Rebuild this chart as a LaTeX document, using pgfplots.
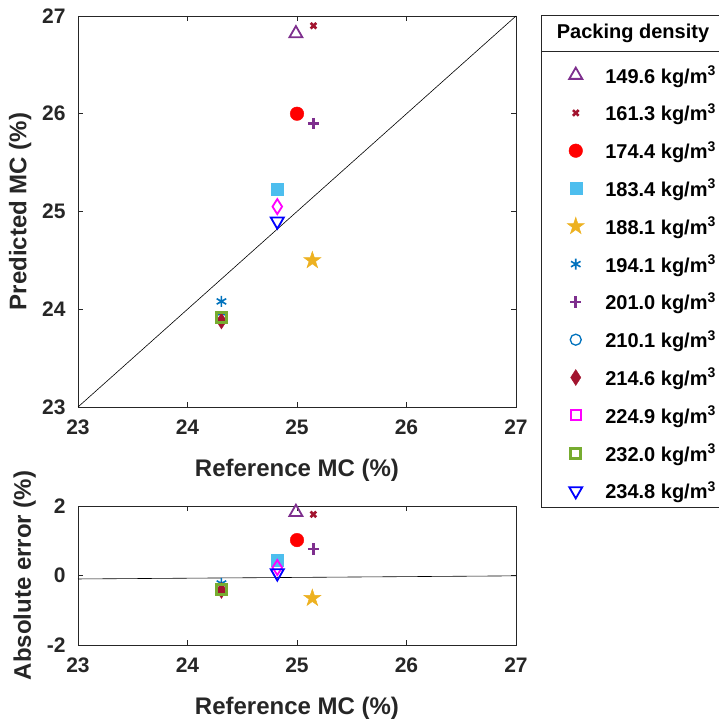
\documentclass[border=0pt]{standalone}
\usepackage{pgfplots}
\pgfplotsset{compat=1.18}
\usepackage{fontspec}
\setmainfont{Liberation Sans}
\definecolor{axc}{RGB}{38,38,38}
\definecolor{cpur}{RGB}{126,47,142}
\definecolor{cdred}{RGB}{162,20,47}
\definecolor{cred}{RGB}{255,0,0}
\definecolor{clblue}{RGB}{77,190,238}
\definecolor{corange}{RGB}{237,177,32}
\definecolor{cmblue}{RGB}{0,114,189}
\definecolor{cmag}{RGB}{255,0,255}
\definecolor{cgreen}{RGB}{119,172,48}
\definecolor{cblue}{RGB}{0,0,255}
\pgfdeclareplotmark{fstar}{%
  \pgfpathmoveto{\pgfpointpolar{90}{\pgfplotmarksize}}%
  \pgfpathlineto{\pgfpointpolar{126}{0.382\pgfplotmarksize}}%
  \pgfpathlineto{\pgfpointpolar{162}{\pgfplotmarksize}}%
  \pgfpathlineto{\pgfpointpolar{198}{0.382\pgfplotmarksize}}%
  \pgfpathlineto{\pgfpointpolar{234}{\pgfplotmarksize}}%
  \pgfpathlineto{\pgfpointpolar{270}{0.382\pgfplotmarksize}}%
  \pgfpathlineto{\pgfpointpolar{306}{\pgfplotmarksize}}%
  \pgfpathlineto{\pgfpointpolar{342}{0.382\pgfplotmarksize}}%
  \pgfpathlineto{\pgfpointpolar{18}{\pgfplotmarksize}}%
  \pgfpathlineto{\pgfpointpolar{54}{0.382\pgfplotmarksize}}%
  \pgfpathclose
  \pgfusepathqfillstroke
}
\pgfplotsset{
  myax/.style={
    scale only axis, width=438pt,
    xmin=23, xmax=27, xtick={23,24,25,26,27},
    axis line style={axc, line width=0.8pt},
    tick style={axc, line width=0.8pt},
    major tick length=5pt,
    tick align=inside, tick pos=both,
    /pgf/number format/assume math mode=true,
    ticklabel style={font=\fontsize{21}{21}\selectfont\bfseries, text=axc},
    xticklabel style={yshift=-9pt},
    yticklabel style={xshift=-9pt},
    label style={font=\fontsize{24}{24}\selectfont\bfseries, text=axc},
    xlabel style={yshift=-18pt},
    ylabel style={yshift=4pt},
    xlabel={Reference MC (\%)},
    clip=false,
  },
}
\begin{document}
\begin{tikzpicture}[x=1pt,y=1pt]
\useasboundingbox (0,0) rectangle (719,719);
\begin{axis}[myax, at={(78pt,312pt)}, anchor=south west, height=391pt,
  ymin=23, ymax=27, ytick={23,24,25,26,27},
  ylabel={Predicted MC (\%)},
  legend style={draw=none, fill=none, at={(1,0.9028)}, anchor=north west, xshift=48pt,
    font=\fontsize{20}{20}\selectfont\bfseries,
    nodes={minimum height=37.8pt, inner sep=0pt, text=black},
    row sep=0pt, column sep=21pt},
  legend cell align=left,
]
\addplot[black, line width=0.6pt, forget plot] coordinates {(23,23) (27,27)};
\addplot[only marks, cpur, mark=triangle, mark size=7.5pt, mark options={line width=1.8pt, fill=none}] coordinates {(24.99,26.82)};
\addlegendentry{149.6 kg/m$^{\mathbf{3}}$}
\addplot[only marks, cdred, mark=x, mark size=4pt, mark options={line width=2.6pt}] coordinates {(25.15,26.90)};
\addlegendentry{161.3 kg/m$^{\mathbf{3}}$}
\addplot[only marks, cred, mark=*, mark size=6.8pt, mark options={draw=cred, fill=cred}] coordinates {(25.00,26.00)};
\addlegendentry{174.4 kg/m$^{\mathbf{3}}$}
\addplot[only marks, clblue, mark=square*, mark size=6pt, mark options={draw=clblue, fill=clblue}] coordinates {(24.82,25.23)};
\addlegendentry{183.4 kg/m$^{\mathbf{3}}$}
\addplot[only marks, corange, mark=fstar, mark size=9pt, mark options={draw=corange, fill=corange, line width=0.5pt}] coordinates {(25.14,24.50)};
\addlegendentry{188.1 kg/m$^{\mathbf{3}}$}
\addplot[only marks, cmblue, mark=asterisk, mark size=5.5pt, mark options={line width=1.6pt}] coordinates {(24.31,24.08)};
\addlegendentry{194.1 kg/m$^{\mathbf{3}}$}
\addplot[only marks, cpur, mark=+, mark size=5.6pt, mark options={line width=2.6pt}] coordinates {(25.15,25.90)};
\addlegendentry{201.0 kg/m$^{\mathbf{3}}$}
\addplot[only marks, cmblue, mark=o, mark size=5.5pt, mark options={line width=1.3pt, fill=none}] coordinates {(24.31,23.90)};
\addlegendentry{210.1 kg/m$^{\mathbf{3}}$}
\addplot[only marks, cdred, mark=diamond*, mark size=8pt, mark options={draw=cdred, fill=cdred, xscale=0.85}] coordinates {(24.31,23.88)};
\addlegendentry{214.6 kg/m$^{\mathbf{3}}$}
\addplot[only marks, cmag, mark=diamond, mark size=7.5pt, mark options={line width=1.8pt, fill=none, xscale=0.85},
  legend image post style={mark=square, mark size=5pt, mark options={line width=1.8pt, xscale=1}}] coordinates {(24.82,25.05)};
\addlegendentry{224.9 kg/m$^{\mathbf{3}}$}
\addplot[only marks, cgreen, mark=square, mark size=5pt, mark options={line width=3pt, fill=none}] coordinates {(24.31,23.92)};
\addlegendentry{232.0 kg/m$^{\mathbf{3}}$}
\addplot[only marks, cblue, mark=triangle, mark size=7.5pt, mark options={line width=1.8pt, fill=none, rotate=180}] coordinates {(24.82,24.90)};
\addlegendentry{234.8 kg/m$^{\mathbf{3}}$}
\end{axis}
\begin{axis}[myax, at={(78pt,74pt)}, anchor=south west, height=139pt,
  ymin=-2, ymax=2, ytick={-2,0,2},
  ylabel={Absolute error (\%)},
]
\addplot[black, line width=0.6pt] coordinates {(23,-0.10) (27,-0.01)};
\addplot[only marks, cpur, mark=triangle, mark size=7.5pt, mark options={line width=1.8pt, fill=none}] coordinates {(24.99,1.82)};
\addplot[only marks, cdred, mark=x, mark size=4pt, mark options={line width=2.6pt}] coordinates {(25.15,1.76)};
\addplot[only marks, cred, mark=*, mark size=6.8pt, mark options={draw=cred, fill=cred}] coordinates {(25.00,1.02)};
\addplot[only marks, clblue, mark=square*, mark size=6pt, mark options={draw=clblue, fill=clblue}] coordinates {(24.82,0.43)};
\addplot[only marks, corange, mark=fstar, mark size=9pt, mark options={draw=corange, fill=corange, line width=0.5pt}] coordinates {(25.14,-0.65)};
\addplot[only marks, cmblue, mark=asterisk, mark size=5.5pt, mark options={line width=1.6pt}] coordinates {(24.31,-0.23)};
\addplot[only marks, cpur, mark=+, mark size=5.6pt, mark options={line width=2.6pt}] coordinates {(25.15,0.76)};
\addplot[only marks, cmblue, mark=o, mark size=5.5pt, mark options={line width=1.3pt, fill=none}] coordinates {(24.31,-0.40)};
\addplot[only marks, cdred, mark=diamond*, mark size=8pt, mark options={draw=cdred, fill=cdred, xscale=0.85}] coordinates {(24.31,-0.43)};
\addplot[only marks, cmag, mark=diamond, mark size=7.5pt, mark options={line width=1.8pt, fill=none, xscale=0.85}] coordinates {(24.82,0.23)};
\addplot[only marks, cgreen, mark=square, mark size=5pt, mark options={line width=3pt, fill=none}] coordinates {(24.31,-0.40)};
\addplot[only marks, cblue, mark=triangle, mark size=7.5pt, mark options={line width=1.8pt, fill=none, rotate=180}] coordinates {(24.82,0.07)};
\end{axis}
\draw[axc, line width=0.8pt] (541,212) rectangle (730,704);
\draw[axc, line width=0.8pt] (541,668) -- (730,668);
\node[font=\fontsize{20}{20}\selectfont\bfseries, text=black] at (633,686) {Packing density};
\end{tikzpicture}
\end{document}
